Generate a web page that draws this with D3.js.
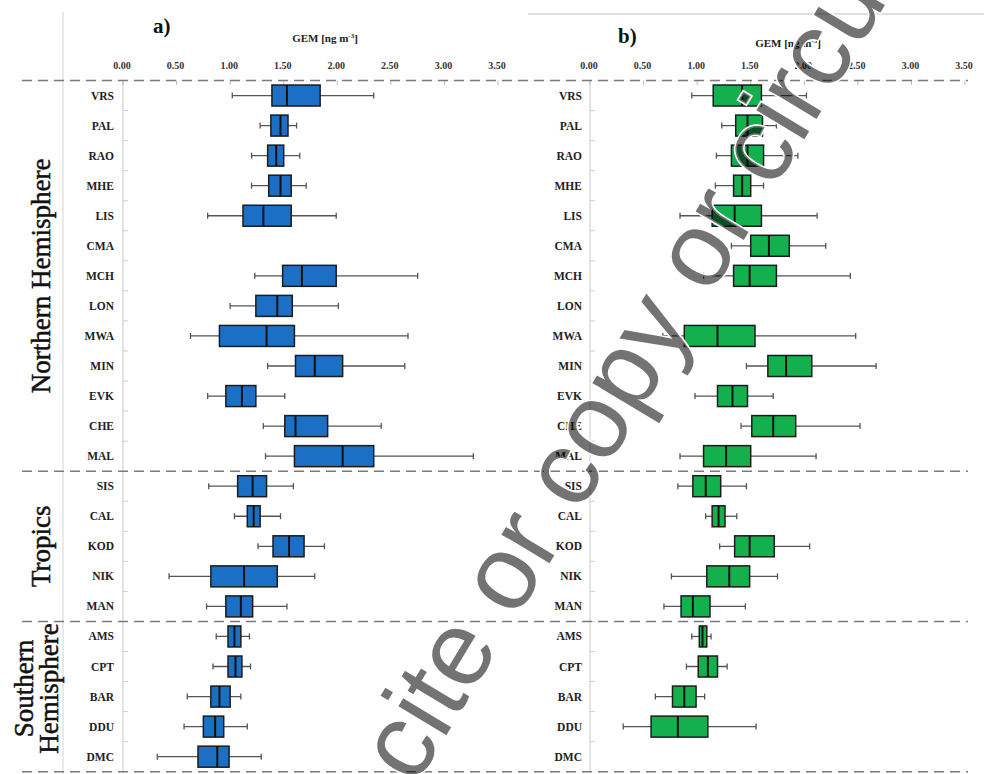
<!DOCTYPE html>
<html lang="en">
<head>
  <meta charset="UTF-8">
  <title>GEM box plots</title>
  <style>
    body { margin: 0; background: #fff; }
    svg { display: block; }
    text { font-family: "Liberation Serif", "Times New Roman", serif; }
  </style>
</head>
<body>
  <div id="chart"></div>

  <script src="https://d3js.org/d3.v7.min.js"></script>
  <script>
    // stations, top to bottom
    const stations = ['VRS', 'PAL', 'RAO', 'MHE', 'LIS', 'CMA', 'MCH', 'LON', 'MWA', 'MIN', 'EVK', 'CHE', 'MAL',
                      'SIS', 'CAL', 'KOD', 'NIK', 'MAN',
                      'AMS', 'CPT', 'BAR', 'DDU', 'DMC'];
    const groupNames = [['Northern Hemisphere'], ['Tropics'], ['Southern', 'Hemisphere']];
    const groupSizes = [13, 5, 5];
    const tickValues = [0, 0.5, 1, 1.5, 2, 2.5, 3, 3.5];

    // [lower whisker, Q1, median, Q3, upper whisker]; null = no data
    const boxA = [
      [1.02, 1.39, 1.53, 1.84, 2.34], [1.28, 1.38, 1.47, 1.54, 1.62], [1.20, 1.35, 1.43, 1.50, 1.65],
      [1.20, 1.36, 1.47, 1.57, 1.71], [0.79, 1.12, 1.31, 1.57, 1.99], null,
      [1.23, 1.49, 1.67, 1.99, 2.75], [1.00, 1.24, 1.44, 1.58, 2.01], [0.63, 0.90, 1.34, 1.60, 2.66],
      [1.35, 1.61, 1.79, 2.05, 2.63], [0.79, 0.96, 1.11, 1.24, 1.51], [1.31, 1.51, 1.61, 1.91, 2.41],
      [1.33, 1.60, 2.05, 2.34, 3.27],
      [0.80, 1.07, 1.21, 1.34, 1.59], [1.04, 1.16, 1.22, 1.28, 1.47], [1.26, 1.40, 1.55, 1.69, 1.88],
      [0.43, 0.82, 1.13, 1.44, 1.79], [0.78, 0.96, 1.10, 1.21, 1.53],
      [0.87, 0.98, 1.04, 1.10, 1.18], [0.84, 0.98, 1.05, 1.11, 1.19], [0.60, 0.82, 0.90, 1.00, 1.10],
      [0.57, 0.75, 0.86, 0.94, 1.16], [0.32, 0.70, 0.88, 0.99, 1.29]
    ];
    const boxB = [
      [0.95, 1.15, 1.42, 1.60, 2.02], [1.23, 1.36, 1.47, 1.61, 1.74], [1.18, 1.32, 1.47, 1.62, 1.94],
      [1.17, 1.34, 1.42, 1.50, 1.62], [0.84, 1.14, 1.35, 1.60, 2.12], [1.32, 1.50, 1.67, 1.86, 2.20],
      [1.06, 1.34, 1.49, 1.74, 2.43], null, [0.68, 0.88, 1.19, 1.54, 2.48],
      [1.46, 1.66, 1.83, 2.07, 2.67], [0.98, 1.19, 1.33, 1.47, 1.71], [1.41, 1.51, 1.71, 1.92, 2.52],
      [0.84, 1.06, 1.27, 1.50, 2.11],
      [0.82, 0.96, 1.08, 1.22, 1.46], [1.08, 1.14, 1.20, 1.26, 1.37], [1.21, 1.35, 1.49, 1.72, 2.05],
      [0.76, 1.09, 1.30, 1.49, 1.75], [0.69, 0.85, 0.96, 1.12, 1.45],
      [0.95, 1.02, 1.05, 1.09, 1.13], [0.90, 1.01, 1.10, 1.19, 1.28], [0.61, 0.77, 0.88, 0.99, 1.07],
      [0.31, 0.57, 0.82, 1.10, 1.55], null
    ];

    const width = 984;
    const height = 774;

    const svg = d3.select('#chart')
      .append('svg')
      .attr('width', width)
      .attr('height', height);

    // shared row scale
    const y = d3.scaleBand()
      .domain(stations)
      .range([80.5, 771.7])
      .paddingInner(0)
      .paddingOuter(0);
    const boxH = 21;

    // left frame line and the top line of panel b
    svg.append('line')
      .attr('x1', 63).attr('x2', 63).attr('y1', 12).attr('y2', height)
      .attr('stroke', '#d4d4d4').attr('stroke-width', 1);
    svg.append('line')
      .attr('x1', 528).attr('x2', width).attr('y1', 14).attr('y2', 14)
      .attr('stroke', '#d4d4d4').attr('stroke-width', 1.5);

    function drawPanel(data, x0, labelX, color, letter, letterPos, titlePos) {
      const x = d3.scaleLinear().domain([0, 3.5]).range([x0, x0 + 375]);
      const g = svg.append('g');

      // y axis line + small ticks at row boundaries
      g.append('line')
        .attr('x1', x(0)).attr('x2', x(0))
        .attr('y1', y.range()[0]).attr('y2', y.range()[1])
        .attr('stroke', '#c8c8c8');
      g.selectAll('.rtick')
        .data(stations.slice(1))
        .join('line')
        .attr('x1', x(0)).attr('x2', x(0) + 5)
        .attr('y1', d => y(d)).attr('y2', d => y(d))
        .attr('stroke', '#cfcfcf');

      // top axis: labels + small ticks
      g.selectAll('.xlab')
        .data(tickValues)
        .join('text')
        .attr('x', d => x(d) - 1)
        .attr('y', 68.5)
        .attr('text-anchor', 'middle')
        .attr('font-size', 10)
        .attr('font-weight', 'bold')
        .attr('fill', '#333')
        .text(d => d3.format('.2f')(d));
      g.selectAll('.xtick')
        .data(tickValues)
        .join('line')
        .attr('x1', d => x(d)).attr('x2', d => x(d))
        .attr('y1', 80.5).attr('y2', 85)
        .attr('stroke', '#bbb');

      // station labels
      g.selectAll('.slab')
        .data(stations)
        .join('text')
        .attr('x', labelX)
        .attr('y', d => y(d) + y.bandwidth() / 2 + 4)
        .attr('text-anchor', 'end')
        .attr('font-size', 11.5)
        .attr('font-weight', 'bold')
        .attr('fill', '#222')
        .text(d => d);

      // title and panel letter
      const title = g.append('text')
        .attr('x', titlePos[0]).attr('y', titlePos[1])
        .attr('text-anchor', 'middle')
        .attr('font-size', 11)
        .attr('font-weight', 'bold')
        .attr('fill', '#222');
      title.append('tspan').text('GEM [ng m');
      title.append('tspan').attr('dy', -4).attr('font-size', 7).text('-3');
      title.append('tspan').attr('dy', 4).text(']');

      g.append('text')
        .attr('x', letterPos[0]).attr('y', letterPos[1])
        .attr('font-size', 21)
        .attr('font-weight', 'bold')
        .attr('fill', '#111')
        .text(letter);

      // boxes
      const rows = stations.map((s, i) => ({ s, v: data[i] })).filter(d => d.v);
      const cy = d => y(d.s) + y.bandwidth() / 2;

      const b = g.selectAll('.box').data(rows).join('g');
      b.append('line')
        .attr('x1', d => x(d.v[0])).attr('x2', d => x(d.v[4]))
        .attr('y1', cy).attr('y2', cy)
        .attr('stroke', '#555').attr('stroke-width', 1.3);
      [0, 4].forEach(k => {
        b.append('line')
          .attr('x1', d => x(d.v[k])).attr('x2', d => x(d.v[k]))
          .attr('y1', d => cy(d) - 3).attr('y2', d => cy(d) + 3)
          .attr('stroke', '#555').attr('stroke-width', 1.3);
      });
      b.append('rect')
        .attr('x', d => x(d.v[1]))
        .attr('width', d => x(d.v[3]) - x(d.v[1]))
        .attr('y', d => cy(d) - boxH / 2)
        .attr('height', boxH)
        .attr('fill', color)
        .attr('stroke', '#1c1c1c').attr('stroke-width', 1.5);
      b.append('line')
        .attr('x1', d => x(d.v[2])).attr('x2', d => x(d.v[2]))
        .attr('y1', d => cy(d) - boxH / 2).attr('y2', d => cy(d) + boxH / 2)
        .attr('stroke', '#111').attr('stroke-width', 2);
    }

    drawPanel(boxA, 123, 114, '#1b6fc4', 'a)', [153, 33], [325, 42]);
    drawPanel(boxB, 590, 582, '#14b04e', 'b)', [618, 43], [788, 47]);

    // dashed group separators
    const cuts = [0];
    groupSizes.forEach((n, i) => cuts.push(cuts[i] + n));
    svg.selectAll('.sep')
      .data(cuts)
      .join('line')
      .attr('x1', 22).attr('x2', 968)
      .attr('y1', d => d < stations.length ? y(stations[d]) : y.range()[1])
      .attr('y2', d => d < stations.length ? y(stations[d]) : y.range()[1])
      .attr('stroke', '#7a7a7a')
      .attr('stroke-width', 1.5)
      .attr('stroke-dasharray', '10,6');

    // group labels, rotated
    const groupG = svg.selectAll('.grp')
      .data(groupNames)
      .join('text')
      .attr('transform', (d, i) => {
        const a = stations[cuts[i]], z = stations[cuts[i + 1] - 1];
        const mid = (y(a) + y(z) + y.bandwidth()) / 2 - (d.length > 1 ? 8 : 0);
        const bx = d.length > 1 ? 33 : 50;
        return `translate(${bx},${mid}) rotate(-90)`;
      })
      .attr('text-anchor', 'middle')
      .attr('font-size', 27)
      .attr('fill', '#111')
      .attr('stroke', '#111')
      .attr('stroke-width', 0.5);
    groupG.selectAll('tspan')
      .data(d => d)
      .join('tspan')
      .attr('x', 0)
      .attr('dy', (d, i) => i === 0 ? 0 : 25)
      .text(d => d);

    // watermark
    const wm = 'Do not cite or copy or circulate';
    const wmT = 'translate(608,466) rotate(-59)';
    svg.append('text')
      .attr('transform', wmT)
      .attr('text-anchor', 'middle')
      .style('font-family', '"Liberation Sans", Arial, sans-serif')
      .attr('font-size', 106)
      .attr('fill', 'none')
      .attr('stroke', '#fff')
      .attr('stroke-width', 3)
      .text(wm);
    svg.append('text')
      .attr('transform', wmT)
      .attr('text-anchor', 'middle')
      .style('font-family', '"Liberation Sans", Arial, sans-serif')
      .attr('font-size', 106)
      .attr('fill', '#000')
      .attr('fill-opacity', 0.55)
      .text(wm);
  </script>
</body>
</html>
